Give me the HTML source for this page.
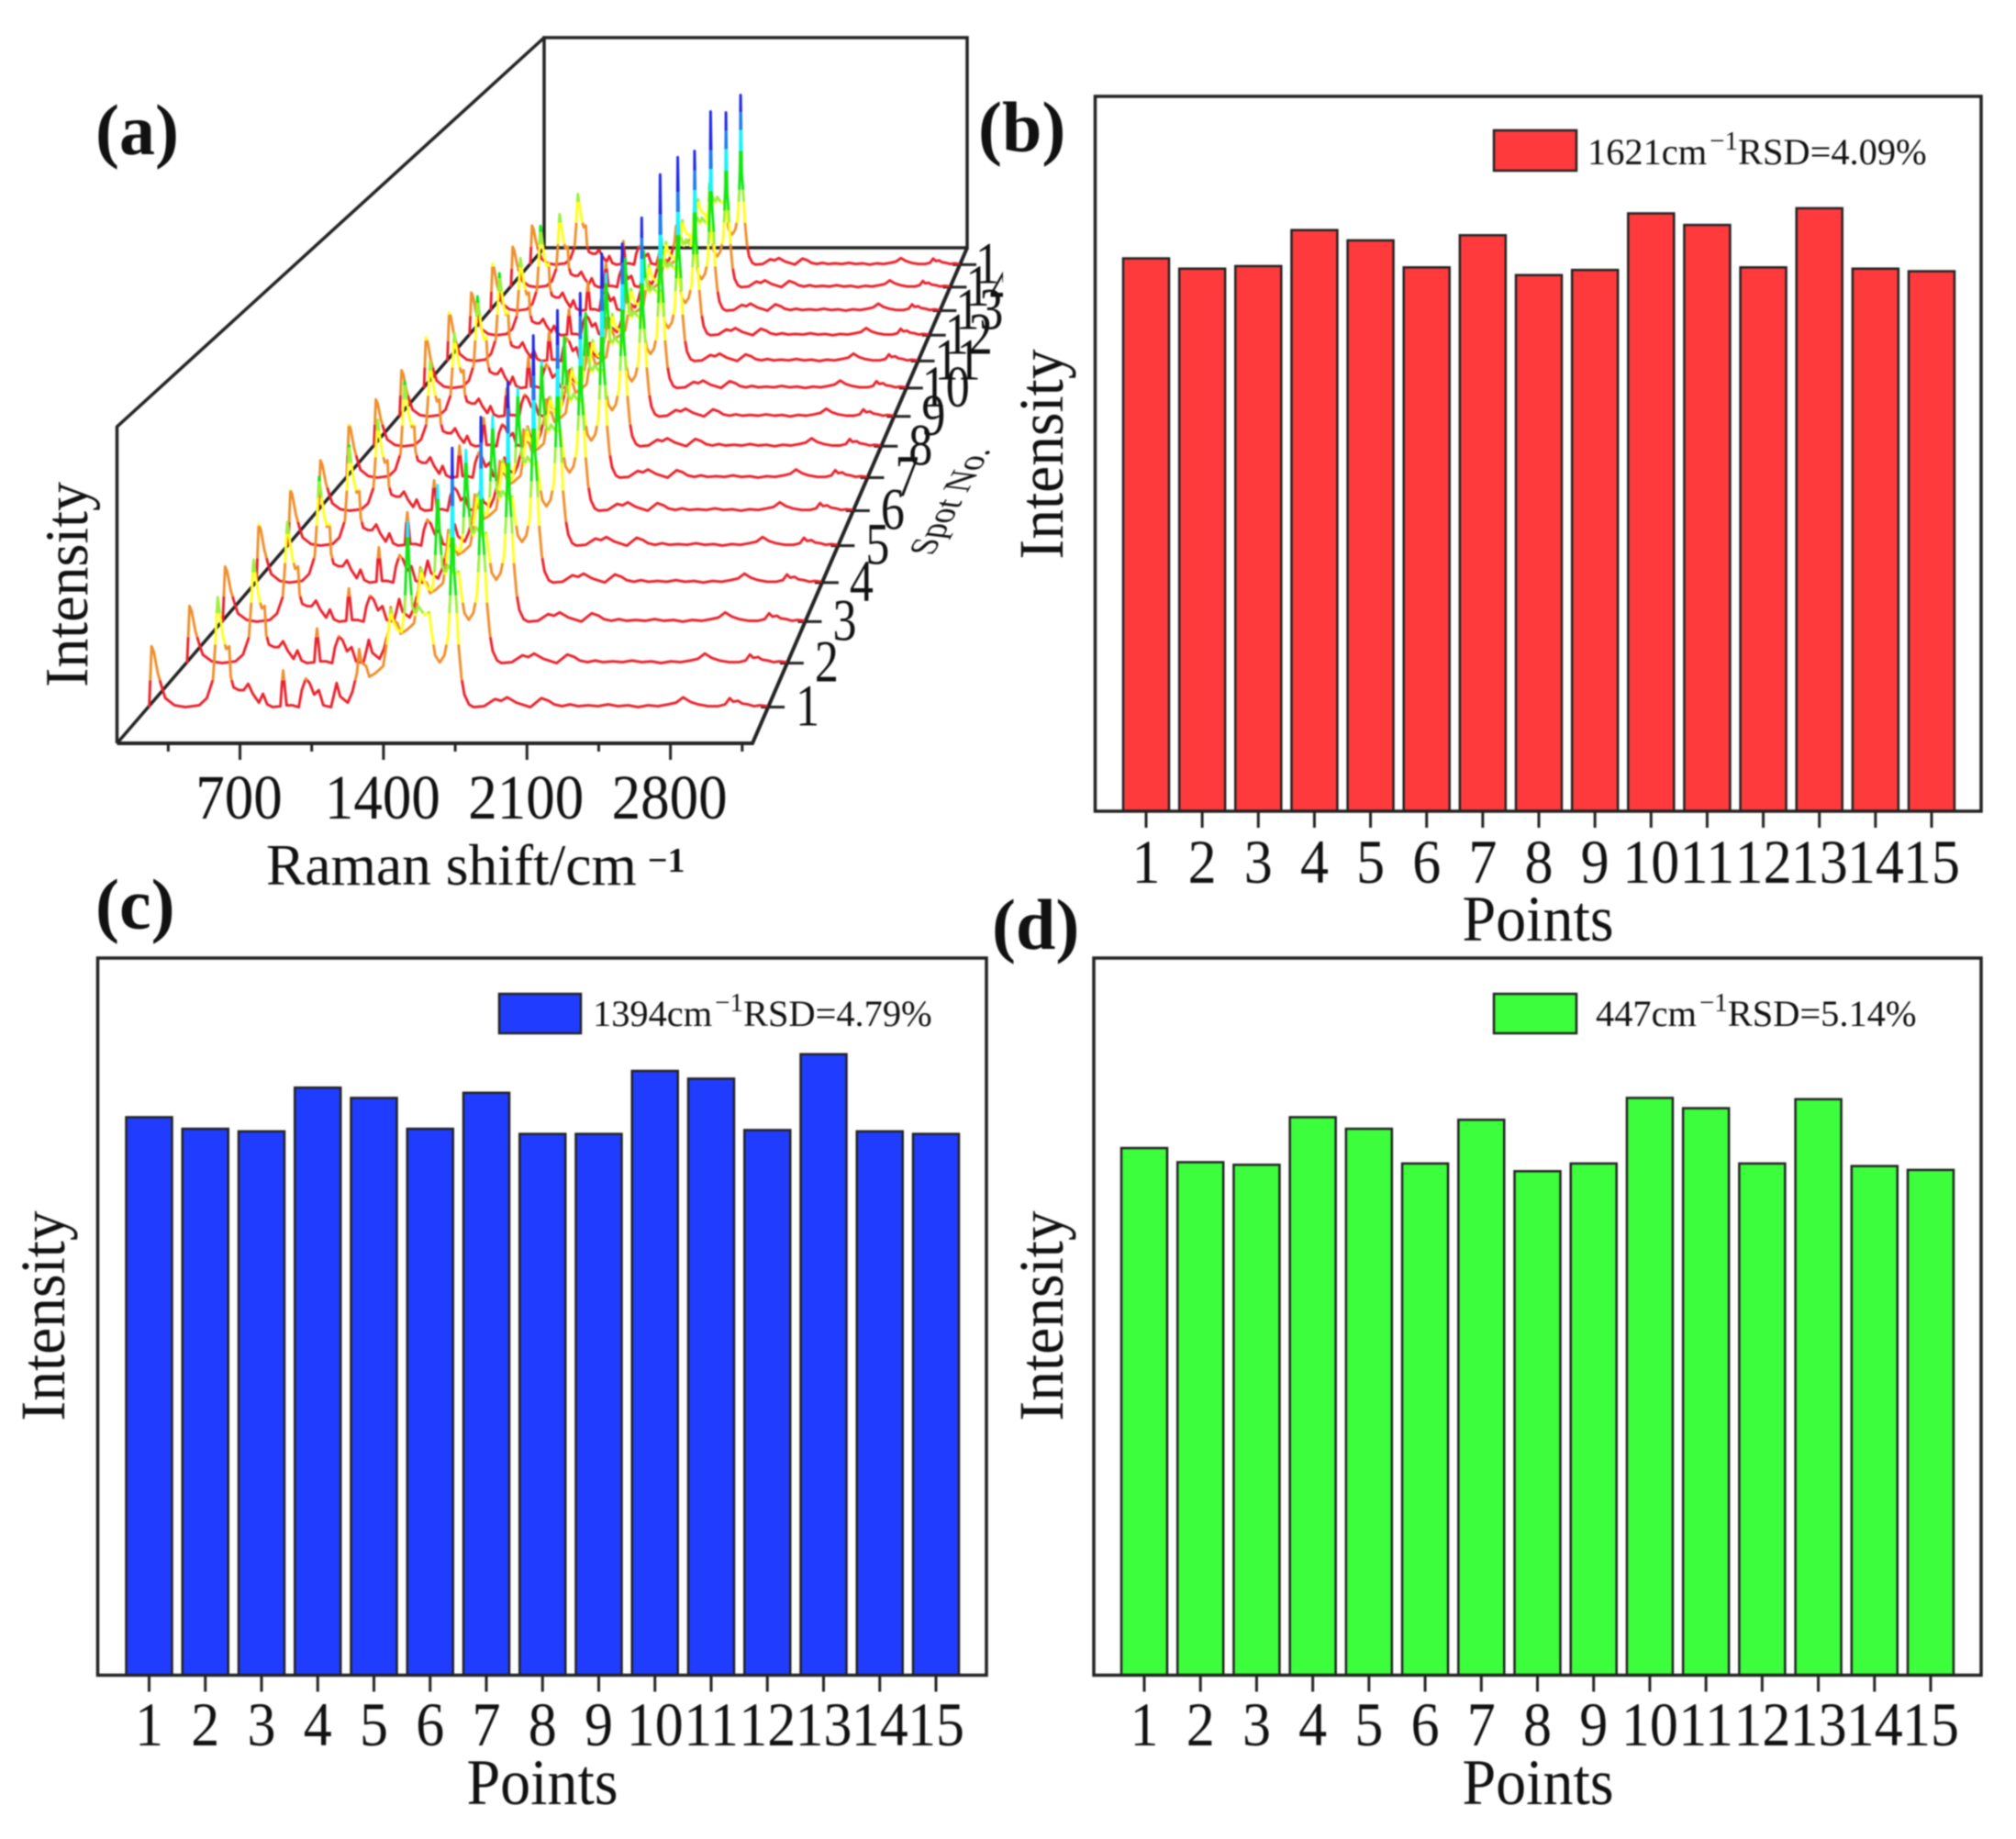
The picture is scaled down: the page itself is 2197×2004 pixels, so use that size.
<!DOCTYPE html>
<html lang="en">
<head>
<meta charset="utf-8">
<title>Raman spectra and RSD bar charts</title>
<style>
html,body{margin:0;padding:0;background:#fff;}
svg{display:block;filter:blur(0.8px);}
text{font-family:"Liberation Serif",serif;fill:#111;}
</style>
</head>
<body>
<svg id="figure" xmlns="http://www.w3.org/2000/svg" width="2197" height="2004" viewBox="0 0 2197 2004">
  <rect x="0" y="0" width="2197" height="2004" fill="#fff"/>

  <g id="panel-a">
    <g fill="none" stroke="#222" stroke-width="3.5">
      <path d="M127.5 810V465L593 41"/>
      <rect x="593" y="41" width="461" height="229"/>
      <path d="M127.5 810L593 270"/>
      <path d="M127.5 810H820L1054 270" stroke-width="4"/>
    </g>
    <g id="raman-ticks"></g>
    <g id="spot-ticks"></g>
    <g id="spectra"></g>
    <text x="290" y="964" font-size="63.5"><tspan>Raman shift/cm</tspan><tspan dx="12" dy="-14" font-size="38" font-weight="bold">−1</tspan></text>
    <text transform="translate(95 637) rotate(-90) scale(1 1.05)" text-anchor="middle" font-size="64">Intensity</text>
    <text transform="matrix(.44 -.8 .98 .12 1016 606)" font-size="41">Spot No.</text>
    <text x="104" y="168" font-size="78" font-weight="bold">(a)</text>
  </g>

  <g id="panel-b">
    <g id="bars-b"></g>
    <rect x="1193.5" y="105" width="965.5" height="779" fill="none" stroke="#222" stroke-width="3.5"/>
    <g id="ticks-b"></g>
    <rect x="1628" y="142" width="90" height="44" fill="#fe3a3c" stroke="#222" stroke-width="2.5"/>
    <text x="1730" y="179" font-size="40.4"><tspan>1621cm</tspan><tspan dx="3" dy="-16" font-size="29">−1</tspan><tspan dy="16">RSD=4.09%</tspan></text>
    <text transform="translate(1676 1025) scale(1 1.08)" text-anchor="middle" font-size="66">Points</text>
    <text transform="translate(1158 495) rotate(-90) scale(1 1.05)" text-anchor="middle" font-size="65.5">Intensity</text>
    <text x="1066" y="165" font-size="78" font-weight="bold">(b)</text>
  </g>

  <g id="panel-c">
    <g id="bars-c"></g>
    <rect x="106.5" y="1044" width="968.5" height="781.5" fill="none" stroke="#222" stroke-width="3.5"/>
    <g id="ticks-c"></g>
    <rect x="544" y="1083" width="89" height="43" fill="#1f3cff" stroke="#222" stroke-width="2.5"/>
    <text x="646" y="1118" font-size="40.4"><tspan>1394cm</tspan><tspan dx="3" dy="-16" font-size="29">−1</tspan><tspan dy="16">RSD=4.79%</tspan></text>
    <text transform="translate(591 1966) scale(1 1.08)" text-anchor="middle" font-size="66">Points</text>
    <text transform="translate(70 1434) rotate(-90) scale(1 1.05)" text-anchor="middle" font-size="65.5">Intensity</text>
    <text x="104" y="1012" font-size="78" font-weight="bold">(c)</text>
  </g>

  <g id="panel-d">
    <g id="bars-d"></g>
    <rect x="1192" y="1044" width="967" height="781.5" fill="none" stroke="#222" stroke-width="3.5"/>
    <g id="ticks-d"></g>
    <rect x="1628" y="1083" width="90" height="43" fill="#3cfe3c" stroke="#222" stroke-width="2.5"/>
    <text x="1739" y="1118" font-size="40.4"><tspan>447cm</tspan><tspan dx="3" dy="-16" font-size="29">−1</tspan><tspan dy="16">RSD=5.14%</tspan></text>
    <text transform="translate(1676 1966) scale(1 1.08)" text-anchor="middle" font-size="66">Points</text>
    <text transform="translate(1158 1434) rotate(-90) scale(1 1.05)" text-anchor="middle" font-size="65.5">Intensity</text>
    <text x="1081" y="1034" font-size="78" font-weight="bold">(d)</text>
  </g>
</svg>

<script>
const pointLabels = [1,2,3,4,5,6,7,8,9,10,11,12,13,14,15];
const intensity1621 = [430,422,424,452,444,423,448,417,421,465,456,423,469,422,420];
const intensity1394 = [434,425,423,457,449,425,453,421,421,470,464,424,483,423,421];
const intensity447 = [410,399,397,434,425,398,432,392,398,449,441,398,448,396,393];
const spectrumPeak1394 = [207,206,205,205,200,195,190,185,204,190,165,150,149,135,136];
const ramanMajorTicks = [700,1400,2100,2800];
const ramanMinorTicks = [350,1050,1750,2450,3150];
const spectrumShift = [105,117,128,148,171,186,232,286,355,393,424,435,444,448,459,474,490,505,513,527,554,577,600,623,654,674,695,723,761,769,775,781,792,822,853,868,888,907,930,953,976,1014,1029,1042,1060,1098,1121,1144,1155,1167,1190,1206,1236,1275,1298,1313,1325,1344,1367,1382,1391,1397,1405,1420,1436,1451,1482,1505,1520,1535,1558,1581,1600,1610,1616,1620,1629,1642,1651,1666,1681,1704,1727,1780,1834,1865,1895,1942,2011,2066,2103,2130,2170,2210,2250,2300,2350,2400,2450,2500,2550,2600,2650,2700,2740,2775,2810,2850,2900,2950,2985,3008,3025,3050,3070,3100,3130,3160,3197];
const spectrumCounts = [0,68,62,38,20,10,2,0,2,10,31,68,110,123,103,79,65,68,34,22,19,19,26,15,5,15,3,0,1,27,41,27,2,2,0,19,32,27,14,19,2,0,14,27,12,5,17,38,65,50,46,34,38,46,79,109,96,87,84,109,161,207,161,113,103,113,103,106,79,58,50,58,79,123,171,290,157,113,72,34,14,3,0,1,9,7,11,5,0,10,7,3,1,3,1,2,1,3,1,2,0,2,1,3,5,11,6,3,1,1,3,10,6,7,4,3,1,2,1];

const SVG_NS = 'http://www.w3.org/2000/svg';

/* ---- Bar panels ---- */
function pointX(index, firstCenter, lastCenter) {
  return firstCenter + (lastCenter - firstCenter) * index / (pointLabels.length - 1);
}
function intensityY(value, bottom, top) {
  return bottom + (top - bottom) * value / 556;
}
function drawBars(barGroupId, tickGroupId, values, fill, firstCenter, lastCenter, bottom, top, labelBase) {
  const barGroup = document.getElementById(barGroupId);
  const tickGroup = document.getElementById(tickGroupId);
  values.forEach(function (value, i) {
    const cx = pointX(i, firstCenter, lastCenter);
    const y = intensityY(value, bottom, top);
    const bar = document.createElementNS(SVG_NS, 'rect');
    
    
    bar.setAttribute('x', cx - 25);
    bar.setAttribute('y', y);
    bar.setAttribute('width', 50);
    bar.setAttribute('height', bottom - y);
    bar.setAttribute('fill', fill);
    bar.setAttribute('stroke', '#222');
    bar.setAttribute('stroke-width', 2.5);
    barGroup.appendChild(bar);

    const tick = document.createElementNS(SVG_NS, 'line');
    
    
    tick.setAttribute('x1', cx);
    tick.setAttribute('x2', cx);
    tick.setAttribute('y1', bottom);
    tick.setAttribute('y2', bottom + 18);
    tick.setAttribute('stroke', '#222');
    tick.setAttribute('stroke-width', 3);
    tickGroup.appendChild(tick);

    const label = document.createElementNS(SVG_NS, 'text');
    
    
    label.setAttribute('transform', 'translate(' + cx + ' ' + labelBase + ') scale(1 1.1)');
    label.setAttribute('text-anchor', 'middle');
    label.setAttribute('font-size', 62);
    label.textContent = pointLabels[i];
    tickGroup.appendChild(label);
  });
}
drawBars('bars-b', 'ticks-b', intensity1621, '#fe3a3c', 1249, 2105, 884, 105, 962);
drawBars('bars-c', 'ticks-c', intensity1394, '#1f3cff', 162.5, 1020, 1825.5, 1046.5, 1902);
drawBars('bars-d', 'ticks-d', intensity447, '#3cfe3c', 1247, 2104, 1825.5, 1046.5, 1902);

/* ---- Waterfall panel ---- */
function spotDepth(spotIndex) {
  const t = 0.05 + spotIndex * 0.9 / (pointLabels.length - 1);
  return t / (t + 0.668 * (1 - t));
}
function floorLeft(s) { return 127.5 + 465.5 * s; }
function floorRight(s) { return 820 + 234 * s; }
function floorY(s) { return 810 - 540 * s; }
function heightScale(s) { return 1 - 0.36 * s; }
function ramanX(shift, s) {
  return floorLeft(s) + (shift - 100) / 3100 * (floorRight(s) - floorLeft(s));
}
function countsY(counts, s) {
  return floorY(s) - counts * heightScale(s);
}
function spotCounts(k, spotIndex) {
  const shift = spectrumShift[k];
  let gain = 1;
  if (shift < 1000) gain = intensity447[spotIndex] / intensity447[0];
  else if (shift >= 1380 && shift <= 1410) gain = spectrumPeak1394[spotIndex] / spectrumPeak1394[0];
  else if (shift >= 1605 && shift <= 1645) gain = intensity1621[spotIndex] / intensity1621[0];
  return spectrumCounts[k] * gain;
}
const bandLimits = [30, 70, 105, 125, 190, 225, 255];
const bandColors = ['#e8222c', '#ee8f2c', '#ffff1e', '#9cf03c', '#14e614', '#1cf2ff', '#1e7cf0', '#1e28e6'];
function bandOf(counts) {
  let b = 0;
  while (b < bandLimits.length && counts >= bandLimits[b]) b++;
  return b;
}
function drawSpectrum(spotIndex, group) {
  const s = spotDepth(spotIndex);
  let run = null;
  let runBand = -1;
  function flush() {
    if (!run) return;
    const line = document.createElementNS(SVG_NS, 'path');
    
    
    line.setAttribute('d', run);
    line.setAttribute('fill', 'none');
    line.setAttribute('stroke', bandColors[runBand]);
    line.setAttribute('stroke-width', 2.9);
    line.setAttribute('stroke-linejoin', 'round');
    group.appendChild(line);
  }
  for (let k = 0; k < spectrumShift.length - 1; k++) {
    const w0 = spectrumShift[k], w1 = spectrumShift[k + 1];
    const c0 = spotCounts(k, spotIndex), c1 = spotCounts(k + 1, spotIndex);
    const cuts = [0];
    bandLimits.forEach(function (limit) {
      if ((c0 - limit) * (c1 - limit) < 0) cuts.push((limit - c0) / (c1 - c0));
    });
    cuts.push(1);
    cuts.sort(function (a, b) { return a - b; });
    for (let j = 0; j < cuts.length - 1; j++) {
      const a = cuts[j], b = cuts[j + 1];
      const band = bandOf(c0 + (c1 - c0) * (a + b) / 2);
      const xa = ramanX(w0 + (w1 - w0) * a, s).toFixed(1);
      const ya = countsY(c0 + (c1 - c0) * a, s).toFixed(1);
      const xb = ramanX(w0 + (w1 - w0) * b, s).toFixed(1);
      const yb = countsY(c0 + (c1 - c0) * b, s).toFixed(1);
      if (band !== runBand) {
        flush();
        run = 'M' + xa + ' ' + ya;
        runBand = band;
      }
      run += 'L' + xb + ' ' + yb;
    }
  }
  flush();
}
const spectraGroup = document.getElementById('spectra');
for (let i = pointLabels.length - 1; i >= 0; i--) {
  drawSpectrum(i, spectraGroup);
}

const ramanGroup = document.getElementById('raman-ticks');
ramanMinorTicks.forEach(function (shift) {
  const tick = document.createElementNS(SVG_NS, 'line');
  
  
  tick.setAttribute('x1', ramanX(shift, 0));
  tick.setAttribute('x2', ramanX(shift, 0));
  tick.setAttribute('y1', 810);
  tick.setAttribute('y2', 819);
  tick.setAttribute('stroke', '#222');
  tick.setAttribute('stroke-width', 3);
  ramanGroup.appendChild(tick);
});
ramanMajorTicks.forEach(function (shift) {
  const tick = document.createElementNS(SVG_NS, 'line');
  
  
  tick.setAttribute('x1', ramanX(shift, 0));
  tick.setAttribute('x2', ramanX(shift, 0));
  tick.setAttribute('y1', 810);
  tick.setAttribute('y2', 828);
  tick.setAttribute('stroke', '#222');
  tick.setAttribute('stroke-width', 3);
  ramanGroup.appendChild(tick);

  const label = document.createElementNS(SVG_NS, 'text');
  
  
  label.setAttribute('transform', 'translate(' + (ramanX(shift, 0) - 1) + ' 892) scale(1 1.1)');
  label.setAttribute('text-anchor', 'middle');
  label.setAttribute('font-size', 63);
  label.textContent = shift;
  ramanGroup.appendChild(label);
});

const spotGroup = document.getElementById('spot-ticks');
pointLabels.forEach(function (spot, i) {
  const s = spotDepth(i);
  const tick = document.createElementNS(SVG_NS, 'line');
  
  
  tick.setAttribute('x1', floorRight(s) - 8);
  tick.setAttribute('x2', floorRight(s) + 18);
  tick.setAttribute('y1', floorY(s));
  tick.setAttribute('y2', floorY(s));
  tick.setAttribute('stroke', '#222');
  tick.setAttribute('stroke-width', 3);
  spotGroup.appendChild(tick);
});
const clipDefs = document.createElementNS(SVG_NS, 'clipPath');
clipDefs.setAttribute('id', 'spot-label-clip');
const clipRect = document.createElementNS(SVG_NS, 'rect');
clipRect.setAttribute('x', 700);
clipRect.setAttribute('y', 200);
clipRect.setAttribute('width', 393);
clipRect.setAttribute('height', 620);
clipDefs.appendChild(clipRect);
document.getElementById('figure').appendChild(clipDefs);
const spotLabelGroup = document.createElementNS(SVG_NS, 'g');


spotLabelGroup.setAttribute('clip-path', 'url(#spot-label-clip)');
spotGroup.appendChild(spotLabelGroup);
pointLabels.forEach(function (spot, i) {
  const s = spotDepth(i);
  const label = document.createElementNS(SVG_NS, 'text');
  
  
  label.setAttribute('transform', 'translate(' + (floorRight(s) + 43) + ' ' + (floorY(s) + 20) + ') scale(1 1.25)');
  label.setAttribute('text-anchor', 'middle');
  label.setAttribute('font-size', 52);
  label.textContent = spot;
  spotLabelGroup.appendChild(label);
});
</script>
</body>
</html>
